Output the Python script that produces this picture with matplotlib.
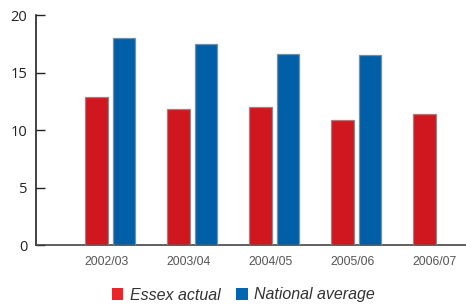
import matplotlib
matplotlib.use("Agg")
import matplotlib.pyplot as plt
from matplotlib.patches import Patch
import numpy as np

categories = ["2002/03", "2003/04", "2004/05", "2005/06", "2006/07"]
essex_actual = [12.9, 11.8, 12.0, 10.9, 11.4]
national_average = [18.0, 17.5, 16.6, 16.5, None]
yticks = [0, 5, 10, 15, 20]

red = "#D0161E"
blue = "#005FA6"
red_leg = "#E8262B"
blue_leg = "#0066B1"

fig = plt.figure(figsize=(4.66, 3.06), dpi=100)
ax = fig.add_axes([0.0766, 0.1993, 0.923, 0.7516])

x = np.arange(len(categories))
w = 0.272
off = 0.168
shift = 0.045
ax.bar(x + shift - off, essex_actual, width=w, color=red, edgecolor="#8a8a8a", linewidth=0.9, zorder=3)
nx = [xi for xi, v in zip(x, national_average) if v is not None]
nv = [v for v in national_average if v is not None]
ax.bar(np.array(nx) + shift + off, nv, width=w, color=blue, edgecolor="#8a8a8a", linewidth=0.9, zorder=3)

ax.set_xlim(-0.863, 4.38)
ax.set_ylim(0, 20)
ax.set_yticks(yticks)
ax.set_yticklabels([str(t) for t in yticks], fontsize=10.5, fontfamily="Open Sans", color="#222222")
ax.set_xticks(x)
ax.set_xticklabels(categories, fontsize=8.8, fontfamily="Liberation Sans", color="#555555")
ax.tick_params(axis="y", direction="in", length=6.5, width=1.0, color="#222222", pad=6)
ax.tick_params(axis="x", length=0, pad=8)

for s in ["top", "right"]:
    ax.spines[s].set_visible(False)
ax.spines["left"].set_color("#222222")
ax.spines["left"].set_linewidth(1.2)
ax.spines["bottom"].set_color("#444444")
ax.spines["bottom"].set_linewidth(1.2)

handles = [Patch(facecolor=red_leg, edgecolor="none", label="Essex actual"),
           Patch(facecolor=blue_leg, edgecolor="none", label="National average")]
fig.legend(handles=handles, loc="center", bbox_to_anchor=(0.5225, 1 - 295 / 306), ncol=2,
           frameon=False, handlelength=0.7, handleheight=0.7, handletextpad=0.4,
           columnspacing=1.0, borderaxespad=0, borderpad=0,
           prop={"family": "Liberation Sans", "style": "italic", "size": 11.5},
           labelcolor="#333333")

fig.savefig("out.png", dpi=100)
